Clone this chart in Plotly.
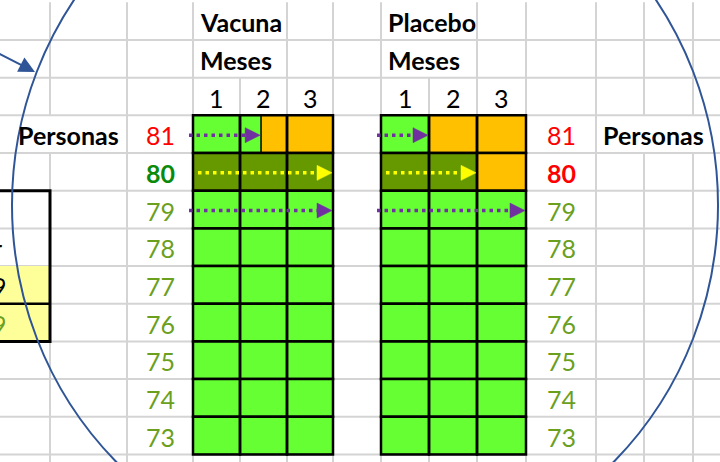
import plotly.graph_objects as go

# ------------------ data ------------------
personas = [81, 80, 79, 78, 77, 76, 75, 74, 73]
meses = [1, 2, 3]
grupos = ["Vacuna", "Placebo"]
# months of the 3-month follow-up each person stayed uninfected (the rest = infected)
meses_sano_vacuna = [1.45, 3, 3, 3, 3, 3, 3, 3, 3]
meses_sano_placebo = [1, 2, 3, 3, 3, 3, 3, 3, 3]
persona_destacada = 80
personas_con_flecha = [81, 80, 79]
titulo_filas = "Personas"
titulo_columnas = "Meses"
tabla_izq_texto = ["", "r", "9", "9"]      # fragment of a neighbouring table, rows 79..76
tabla_izq_color = ["black", "black", "black", "#6B9F1E"]

# ------------------ styles / layout ------------------
W, H = 720, 462
FONT = "Lato"
FS = 25
GRID = "#D4D4D4"
GREEN = "#66FF33"
OLIVE = "#669900"
ORANGE = "#FFC000"
PURPLE = "#7030A0"
YELLOW = "#FFFF00"
LBL_OLIVE = "#6B9F1E"
RED = "#FF0000"
DKGREEN = "#0A8A0A"
BLUE = "#2F5597"
COL = [-10, 50, 127, 193, 240, 287, 333, 381, 429, 477, 526, 596, 644, 693, 760]
ROW_H = 37.68
ROW0 = 2.3
GROUP_COL = {"Vacuna": 3, "Placebo": 7}
LABEL_COL_LEFT, LABEL_COL_RIGHT = 2, 10
FIRST_PERSON_ROW = 3


def row_top(r):
    return ROW0 + ROW_H * r


def row_mid(r):
    return row_top(r) + ROW_H / 2


def col_mid(c):
    return (COL[c] + COL[c + 1]) / 2


def month_x(gc, v):
    k = min(int(v), 2)
    return COL[gc + k] + (v - k) * (COL[gc + k + 1] - COL[gc + k])


shapes = []
annotations = []
traces = []

# ---- spreadsheet gridlines ----
hidden_v = {(COL[4], 0), (COL[4], 1), (COL[8], 0), (COL[8], 1),
            (COL[1], 3), (COL[12], 3), (COL[13], 3)}
for c in range(1, 14):
    x = COL[c]
    for r in range(0, 13):
        if (x, r) in hidden_v:
            continue
        y0 = max(row_top(r), 0)
        y1 = min(row_top(r + 1), H)
        shapes.append(dict(type="line", xref="x", yref="y", x0=x, x1=x, y0=y0, y1=y1,
                           line=dict(color=GRID, width=2), layer="below"))
for r in range(1, 13):
    y = row_top(r)
    shapes.append(dict(type="line", xref="x", yref="y", x0=0, x1=W, y0=y, y1=y,
                       line=dict(color=GRID, width=2), layer="below"))

# ---- left neighbouring table fragment ----
box_top_row = FIRST_PERSON_ROW + personas.index(79)
for j, (t, col) in enumerate(zip(tabla_izq_texto, tabla_izq_color)):
    r = box_top_row + j
    if j >= 2:
        shapes.append(dict(type="rect", xref="x", yref="y", x0=-10, x1=COL[1],
                           y0=row_top(r), y1=row_top(r + 1), fillcolor="#FFFF99",
                           line=dict(width=0), layer="below"))
    if t:
        annotations.append(dict(x=9 if t == "9" else 4, y=row_mid(r) + 1, text=t,
                                xanchor="right", yanchor="middle", showarrow=False,
                                font=dict(family=FONT, size=FS, color=col)))
shapes.append(dict(type="line", xref="x", yref="y", x0=-10, x1=COL[1],
                   y0=row_top(box_top_row + 3), y1=row_top(box_top_row + 3),
                   line=dict(color="black", width=2.5), layer="below"))
shapes.append(dict(type="rect", xref="x", yref="y", x0=-10, x1=COL[1],
                   y0=row_top(box_top_row), y1=row_top(box_top_row + 4),
                   line=dict(color="black", width=3), layer="below"))

# ---- group grids ----
for g, sano in zip(grupos, [meses_sano_vacuna, meses_sano_placebo]):
    gc = GROUP_COL[g]
    annotations.append(dict(x=COL[gc] + 5, y=row_mid(0) + 1, text=f"<b>{g}</b>",
                            xanchor="left", yanchor="middle", showarrow=False,
                            font=dict(family=FONT, size=FS, color="black")))
    annotations.append(dict(x=COL[gc] + 5, y=row_mid(1) + 1, text=f"<b>{titulo_columnas}</b>",
                            xanchor="left", yanchor="middle", showarrow=False,
                            font=dict(family=FONT, size=FS, color="black")))
    for m in meses:
        annotations.append(dict(x=col_mid(gc + m - 1), y=row_mid(2) + 1, text=str(m),
                                xanchor="center", yanchor="middle", showarrow=False,
                                font=dict(family=FONT, size=FS, color="black")))
    for i, p in enumerate(personas):
        r = FIRST_PERSON_ROW + i
        y0, y1 = row_top(r), row_top(r + 1)
        healthy = OLIVE if p == persona_destacada else GREEN
        s = sano[i]
        for m in meses:
            x0, x1 = COL[gc + m - 1], COL[gc + m]
            if s >= m:
                segs = [(x0, x1, healthy)]
            elif s <= m - 1:
                segs = [(x0, x1, ORANGE)]
            else:
                xs = month_x(gc, s)
                segs = [(x0, xs, healthy), (xs, x1, ORANGE)]
            for a, b, fc in segs:
                shapes.append(dict(type="rect", xref="x", yref="y", x0=a, x1=b, y0=y0, y1=y1,
                                   fillcolor=fc, line=dict(color="black", width=1.2),
                                   layer="below"))
        for m in meses:
            shapes.append(dict(type="rect", xref="x", yref="y",
                               x0=COL[gc + m - 1], x1=COL[gc + m], y0=y0, y1=y1,
                               line=dict(color="black", width=2.5), layer="below"))
        # arrows
        if p in personas_con_flecha:
            colr = YELLOW if p == persona_destacada else PURPLE
            start = COL[gc] + (5 if p == persona_destacada else -4)
            tip = month_x(gc, s) - 1
            yc = row_mid(r) + 1
            traces.append(go.Scatter(x=[start, tip - 13], y=[yc, yc], mode="lines",
                                     line=dict(color=colr, width=3.5, dash="3.5px,4px"),
                                     hoverinfo="skip"))
            traces.append(go.Scatter(x=[tip - 15, tip, tip - 15, tip - 15],
                                     y=[yc - 7.5, yc, yc + 7.5, yc - 7.5],
                                     mode="lines", fill="toself", fillcolor=colr,
                                     line=dict(color=colr, width=0.5), hoverinfo="skip"))

# ---- row labels ----
for i, p in enumerate(personas):
    r = FIRST_PERSON_ROW + i
    if p == 81:
        cl, cr, bl, br = RED, RED, False, False
    elif p == persona_destacada:
        cl, cr, bl, br = DKGREEN, RED, True, True
    else:
        cl, cr, bl, br = LBL_OLIVE, LBL_OLIVE, False, False
    annotations.append(dict(x=col_mid(LABEL_COL_LEFT), y=row_mid(r) + 1,
                            text=f"<b>{p}</b>" if bl else str(p),
                            xanchor="center", yanchor="middle", showarrow=False,
                            font=dict(family=FONT, size=FS, color=cl)))
    annotations.append(dict(x=col_mid(LABEL_COL_RIGHT), y=row_mid(r) + 1,
                            text=f"<b>{p}</b>" if br else str(p),
                            xanchor="center", yanchor="middle", showarrow=False,
                            font=dict(family=FONT, size=FS, color=cr)))

annotations.append(dict(x=COL[2] - 6, y=row_mid(FIRST_PERSON_ROW) + 1,
                        text=f"<b>{titulo_filas}</b>", xanchor="right", yanchor="middle",
                        showarrow=False, font=dict(family=FONT, size=FS, color="black")))
annotations.append(dict(x=COL[11] + 5, y=row_mid(FIRST_PERSON_ROW) + 1,
                        text=f"<b>{titulo_filas}</b>", xanchor="left", yanchor="middle",
                        showarrow=False, font=dict(family=FONT, size=FS, color="black")))

# ---- blue ellipse and pointer arrow ----
shapes.append(dict(type="circle", xref="x", yref="y", x0=12, x1=718, y0=-157, y1=567,
                   line=dict(color=BLUE, width=2), layer="below"))
annotations.append(dict(x=35, y=72, ax=-8, ay=50, axref="x", ayref="y", xref="x", yref="y",
                        text="", showarrow=True, arrowhead=2, arrowsize=1.6,
                        arrowwidth=2, arrowcolor=BLUE))

fig = go.Figure(traces)
fig.update_layout(
    width=W, height=H, margin=dict(l=0, r=0, t=0, b=0),
    paper_bgcolor="white", plot_bgcolor="white", showlegend=False,
    xaxis=dict(range=[0, W], visible=False, fixedrange=True),
    yaxis=dict(range=[H, 0], visible=False, fixedrange=True),
    shapes=shapes, annotations=annotations,
)
fig.write_html("out.html", config={"displayModeBar": False},
               post_script="document.body.style.margin='0px';"
                           "document.body.style.overflow='hidden';")
